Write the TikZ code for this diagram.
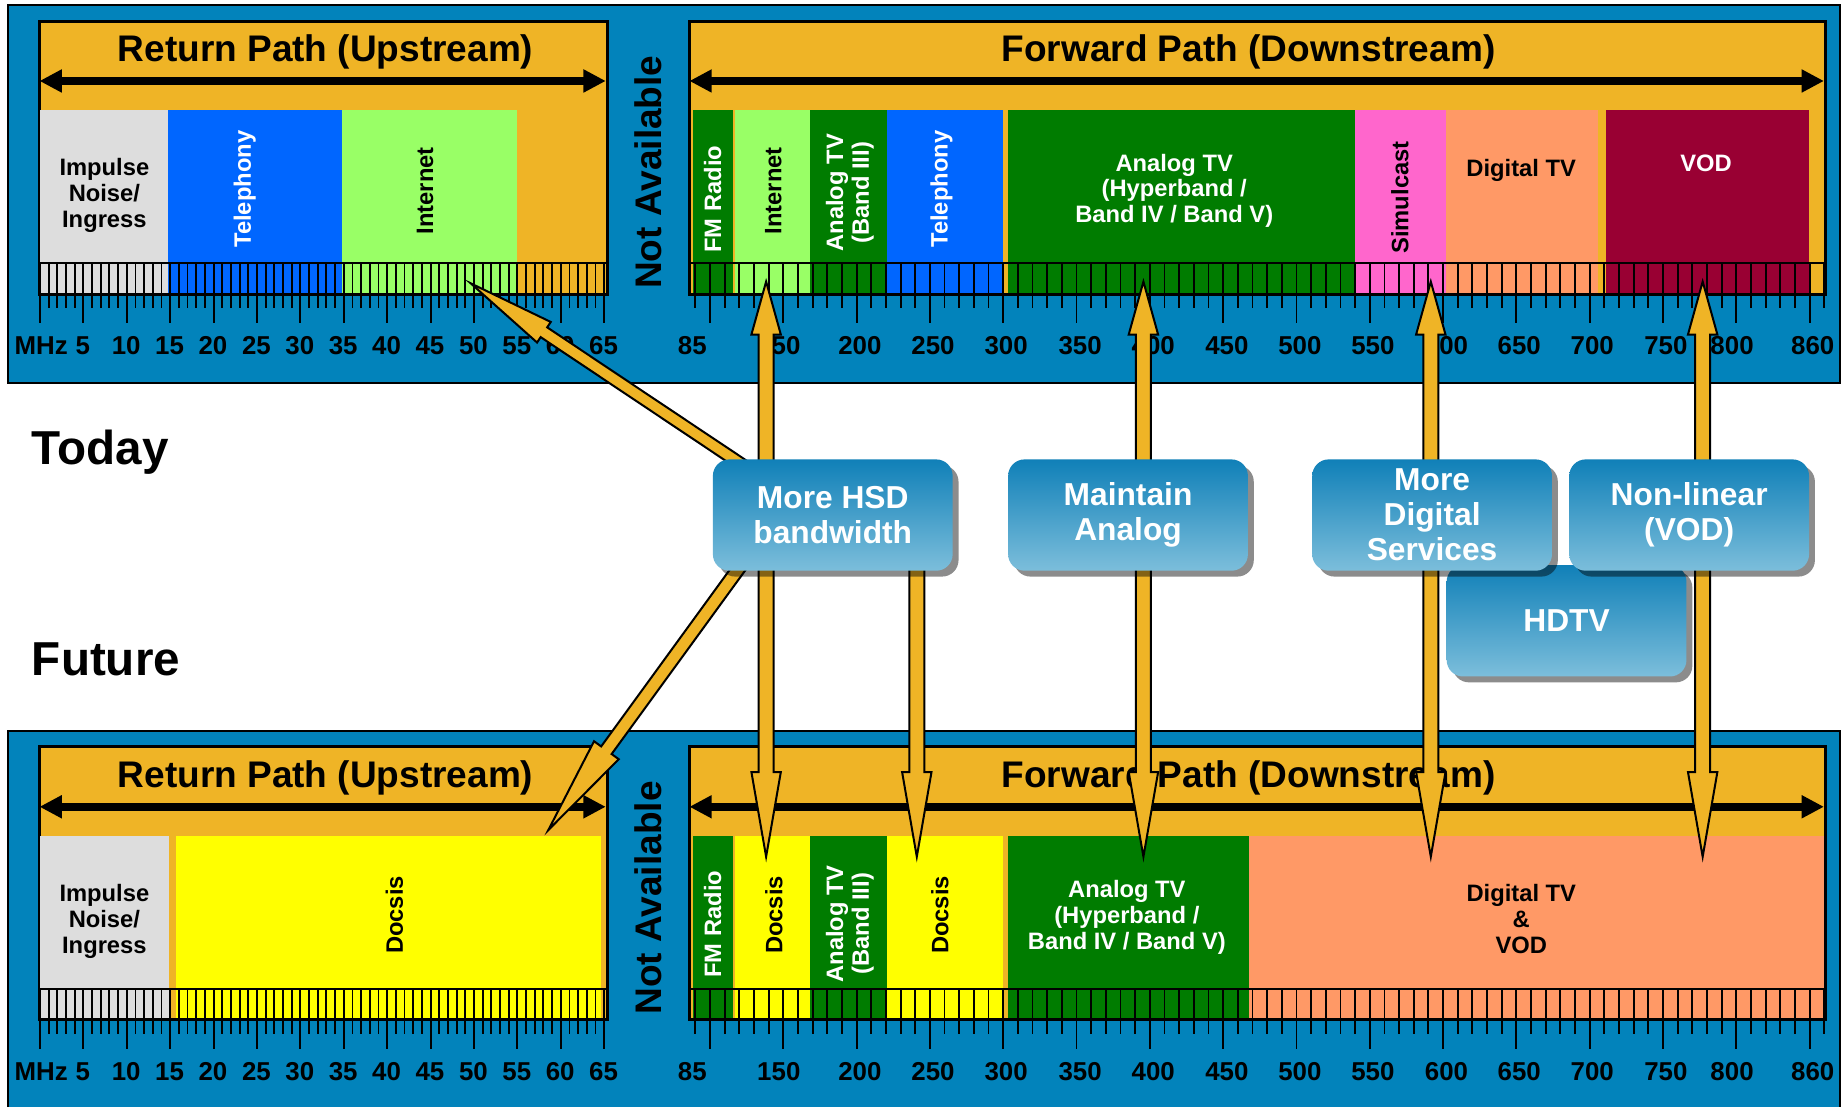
\documentclass[tikz,border=0pt]{standalone}
\usepackage{fontspec}
\setmainfont{Liberation Sans}
\usetikzlibrary{calc,arrows.meta,shadows}

\definecolor{panelblue}{RGB}{2,131,187}
\definecolor{gold}{RGB}{239,180,38}
\definecolor{noisegray}{RGB}{221,221,221}
\definecolor{telblue}{RGB}{0,102,255}
\definecolor{netgreen}{RGB}{153,255,102}
\definecolor{tvgreen}{RGB}{0,124,0}
\definecolor{simpink}{RGB}{255,102,204}
\definecolor{dtvsalmon}{RGB}{255,153,102}
\definecolor{vodred}{RGB}{153,0,51}
\definecolor{docyellow}{RGB}{255,255,0}
\definecolor{boxtop}{RGB}{16,128,184}
\definecolor{boxbot}{RGB}{124,190,219}

\pgfdeclarelayer{front}
\pgfsetlayers{main,front}

\tikzset{
  panel/.style={fill=panelblue,draw=black,line width=1.5pt},
  goldbox/.style={fill=gold,draw=black,line width=1.7pt,anchor=north west,inner sep=0pt,minimum height=231.4pt},
  boxline/.style={draw=black,line width=1.7pt},
  stripline/.style={draw=black,line width=2pt},
  tick/.style={draw=black,line width=1.6pt},
  spanarrow/.style={line width=6.5pt,arrows={Triangle[length=19pt,width=18.5pt]-Triangle[length=19pt,width=18.5pt]}},
  titletxt/.style={font=\bfseries\fontsize{31.5}{34}\selectfont,inner sep=0pt},
  scalelbl/.style={font=\bfseries\fontsize{22}{24}\selectfont,inner sep=0pt,anchor=base},
  bandtxt/.style={font=\bfseries\fontsize{20.2}{22}\selectfont,inner sep=0pt,align=center},
  rowtxt/.style={font=\bfseries\fontsize{40.5}{44}\selectfont,inner sep=0pt,anchor=base west},
  goalbox/.style={rounded corners=14pt,minimum width=204pt,minimum height=94.7pt,inner sep=0pt,
    top color=boxtop,bottom color=boxbot,text=white,align=center,
    font=\bfseries\fontsize{27}{29.8}\selectfont,
    drop shadow={shadow xshift=5pt,shadow yshift=-5pt,fill=black,opacity=0.45}},
  fat/.style={fill=gold,draw=black,line width=1.7pt,line join=miter},
}

% blue panel with the two empty gold spectrum boxes
\newcommand{\panelbase}[1]{%
  \draw[panel] (6.7,4.3) rectangle (1565.4,326);
  \node[goldbox,minimum width=481.8pt] (#1-ret) at (33.6,17.6) {};
  \node[goldbox,minimum width=965.3pt] (#1-fwd) at (586.5,17.6) {};
}

% frequency strips, ticks, scale labels and headings
\newcommand{\panelscale}[1]{%
  \draw[stripline] (33.6,224) -- (515.4,224);
  \draw[stripline] (586.5,224) -- (1551.8,224);
  \foreach \f in {0,...,65}{%
    \pgfmathsetmacro\tl{mod(\f,5)==0 ? 275 : 262}
    \draw[tick] (34+7.385*\f,224) -- (34+7.385*\f,\tl);
  }
  \foreach \f in {90,100,...,860}{%
    \pgfmathsetmacro\tl{mod(\f,50)==0 ? 275 : 262}
    \draw[tick] (479.25+1.2475*\f,224) -- (479.25+1.2475*\f,\tl);
  }
  \draw[boxline] (#1-ret.north west) rectangle (#1-ret.south east);
  \draw[boxline] (#1-fwd.north west) rectangle (#1-fwd.south east);
  \node[scalelbl] (#1-mhz) at (35,302) {MHz};
  \foreach \f in {5,10,...,65}{%
    \node[scalelbl] (#1-rl\f) at (34+7.385*\f-0.5,302) {\f};
  }
  \foreach \v/\x in {85/589,150/662.6,200/731.6,250/793.8,300/856,350/919,400/981.2,450/1043.8,
      500/1105.9,550/1168,600/1230.7,650/1292.5,700/1354.6,750/1417.3,800/1473.6,860/1542.2}{%
    \node[scalelbl] (#1-fl\v) at (\x,302) {\v};
  }
  \node[titletxt,anchor=base] (#1-rtitle) at (277,52.5) {Return Path (Upstream)};
  \node[titletxt,anchor=base] (#1-ftitle) at (1062.2,52.5) {Forward Path (Downstream)};
  \node[titletxt,rotate=90] (#1-na) at (551.6,146.5) {Not Available};
  \coordinate (#1-ra) at (33.6,68.9);
  \coordinate (#1-rb) at (515.4,68.9);
  \coordinate (#1-fa) at (586.5,68.9);
  \coordinate (#1-fb) at (1551.8,68.9);
  \draw[spanarrow] (#1-ra) -- (#1-rb);
  \draw[spanarrow] (#1-fa) -- (#1-fb);
}

% gold arrow with one head: from, tip, half shaft, head length, half head
\newcommand{\fatsingle}[5]{%
  \coordinate (fab) at ($(#2)!#4!(#1)$);
  \draw[fat] ($(#1)!#3!90:(#2)$) -- ($(fab)!#3!90:(#2)$) -- ($(fab)!#5!90:(#2)$) -- (#2)
    -- ($(fab)!#5!-90:(#2)$) -- ($(fab)!#3!-90:(#2)$) -- ($(#1)!#3!-90:(#2)$) -- cycle;
}
% gold arrow with two heads: tip 1, tip 2, half shaft, head length 1, head length 2, half head
\newcommand{\fatdouble}[6]{%
  \coordinate (fda) at ($(#1)!#4!(#2)$);
  \coordinate (fdb) at ($(#2)!#5!(#1)$);
  \draw[fat] (#1) -- ($(fda)!#6!90:(#2)$) -- ($(fda)!#3!90:(#2)$) -- ($(fdb)!#3!90:(#2)$)
    -- ($(fdb)!#6!90:(#2)$) -- (#2) -- ($(fdb)!#6!-90:(#2)$) -- ($(fdb)!#3!-90:(#2)$)
    -- ($(fda)!#3!-90:(#2)$) -- ($(fda)!#6!-90:(#2)$) -- cycle;
}

\begin{document}
\begin{tikzpicture}[x=1pt,y=-1pt]
\useasboundingbox (0,0) rectangle (1568,941);
\fill[white] (0,0) rectangle (1568,941);

% ---------------- today ----------------
\panelbase{t}
\fill[noisegray] (33.6,93.6) rectangle (143,249);
\fill[telblue] (143,93.6) rectangle (291,249);
\fill[netgreen] (291,93.6) rectangle (440,249);
\fill[tvgreen] (589.6,93.6) rectangle (623.3,249);
\fill[netgreen] (624.9,93.6) rectangle (689.5,249);
\fill[tvgreen] (689.5,93.6) rectangle (754.4,249);
\fill[telblue] (754.4,93.6) rectangle (853.6,249);
\fill[tvgreen] (857.6,93.6) rectangle (1152.9,249);
\fill[simpink] (1152.9,93.6) rectangle (1229.8,249);
\fill[dtvsalmon] (1229.8,93.6) rectangle (1359.6,249);
\fill[vodred] (1366,93.6) rectangle (1539,249);

% multi-line labels are placed by the baseline of their last line
\node[bandtxt,anchor=base] (t-imp) at (88.8,193.7) {Impulse\\Noise/\\Ingress};
\node[bandtxt,text=white,rotate=90] (t-tel) at (208.3,160.9) {Telephony};
\node[bandtxt,rotate=90] (t-net) at (361.6,162.4) {Internet};
\node[bandtxt,text=white,rotate=90] (t-fm) at (606.3,169.5) {FM Radio};
\node[bandtxt,rotate=90] (t-net2) at (658,162.4) {Internet};
\node[bandtxt,text=white,rotate=90] (t-b3) at (723,164) {Analog TV\\(Band III)};
\node[bandtxt,text=white,rotate=90] (t-tel2) at (800.9,161) {Telephony};
\node[bandtxt,text=white,anchor=base] (t-hyp) at (999,189.5) {Analog TV\\(Hyperband /\\Band IV / Band V)};
\node[bandtxt,rotate=90] (t-sim) at (1191,168) {Simulcast};
\node[bandtxt,anchor=base] (t-dtv) at (1294.2,150.3) {Digital TV};
\node[bandtxt,text=white,anchor=base] (t-vod) at (1451.5,146) {VOD};
\panelscale{t}

% ---------------- future ----------------
\begin{scope}[shift={(0,617.5)}]
\panelbase{f}
\fill[noisegray] (33.6,93.6) rectangle (144.2,249);
\fill[docyellow] (149.9,93.6) rectangle (511,249);
\fill[tvgreen] (589.6,93.6) rectangle (623.3,249);
\fill[docyellow] (624.9,93.6) rectangle (689.5,249);
\fill[tvgreen] (689.5,93.6) rectangle (754.4,249);
\fill[docyellow] (754.4,93.6) rectangle (853.6,249);
\fill[tvgreen] (857.7,93.6) rectangle (1062.3,249);
\fill[dtvsalmon] (1062.3,93.6) rectangle (1551.8,249);

\node[bandtxt,anchor=base] (f-imp) at (88.8,193.6) {Impulse\\Noise/\\Ingress};
\node[bandtxt,rotate=90] (f-doc) at (335.5,161) {Docsis};
\node[bandtxt,text=white,rotate=90] (f-fm) at (606.3,168.8) {FM Radio};
\node[bandtxt,rotate=90] (f-doc2) at (658.4,161) {Docsis};
\node[bandtxt,text=white,rotate=90] (f-b3) at (723,168.5) {Analog TV\\(Band III)};
\node[bandtxt,rotate=90] (f-doc3) at (799.7,161) {Docsis};
\node[bandtxt,text=white,anchor=base] (f-hyp) at (958.7,190.2) {Analog TV\\(Hyperband /\\Band IV / Band V)};
\node[bandtxt,anchor=base] (f-dtv) at (1294.3,193.6) {Digital TV\\\&\\VOD};
\panelscale{f}
\end{scope}

% row headings
\node[rowtxt] (today) at (27,394.8) {Today};
\node[rowtxt] (future) at (27,575.1) {Future};

% goals
\begin{pgfonlayer}{front}
\node[goalbox] (hdtv) at (1332.8,528.2) {HDTV};
\node[goalbox] (hsd) at (708.5,438.2) {More HSD\\bandwidth};
\node[goalbox] (maint) at (959.7,438.2) {Maintain\\Analog};
\node[goalbox] (mds) at (1218.4,438.2) {More\\Digital\\Services};
\node[goalbox] (nonlin) at (1437.1,438.2) {Non-linear\\(VOD)};
\end{pgfonlayer}

% arrow ends on the spectra
\coordinate (tRetT) at (400.4,241);
\coordinate (tRetB) at (466.5,706.2);
\coordinate (tT1) at (651.8,239.6);
\coordinate (tT2) at (972.8,239.6);
\coordinate (tT3) at (1217.3,239.6);
\coordinate (tT4) at (1448.6,239.6);
\coordinate (tB1) at (651.8,728.9);
\coordinate (tB2) at (780,728.9);
\coordinate (tB3) at (972.8,728.9);
\coordinate (tB4) at (1217.3,728.9);
\coordinate (tB5) at (1448.6,728.9);
\coordinate (hsdA) at ($(hsd.center)+(-13,0)$);
\coordinate (hsdB) at ($(hsd.center)+(-47,0)$);
\coordinate (hsdC) at (hsd.center -| tB2);

\fatsingle{hsdA}{tRetT}{5pt}{75pt}{10.5pt}
\fatsingle{hsdB}{tRetB}{5.5pt}{84pt}{13pt}
\fatsingle{hsdC}{tB2}{6.4pt}{72pt}{12.5pt}
\fatdouble{tT1}{tB1}{6.4pt}{45pt}{72pt}{12.5pt}
\fatdouble{tT2}{tB3}{6.4pt}{45pt}{72pt}{12.5pt}
\fatdouble{tT3}{tB4}{6.4pt}{45pt}{72pt}{12.5pt}
\fatdouble{tT4}{tB5}{6.4pt}{45pt}{72pt}{12.5pt}
\end{tikzpicture}
\end{document}
